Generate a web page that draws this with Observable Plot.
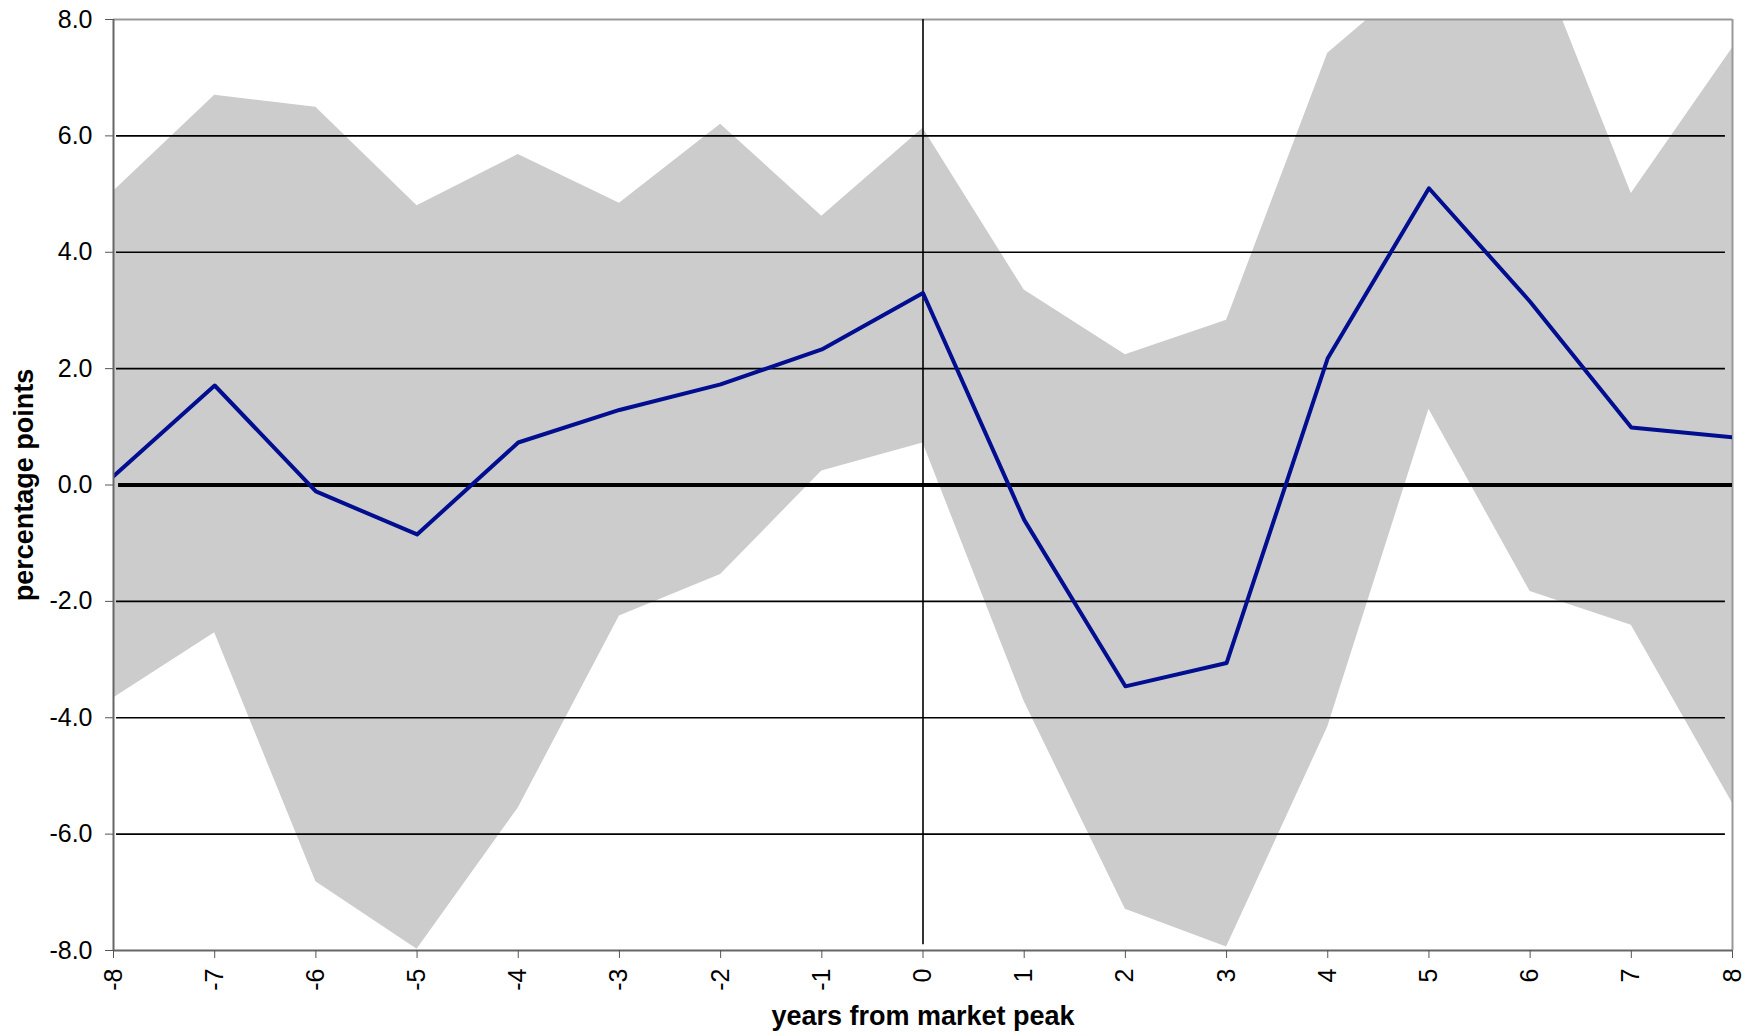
<!DOCTYPE html>
<html>
<head>
<meta charset="utf-8">
<script src="https://cdn.jsdelivr.net/npm/d3@7"></script>
<script src="https://cdn.jsdelivr.net/npm/@observablehq/plot@0.6"></script>
<style>
  html, body { margin: 0; padding: 0; background: white; }
  #chart { width: 1756px; height: 1035px; }
</style>
</head>
<body>
<div id="chart"></div>
<script>
// years from market peak
const years = [-8, -7, -6, -5, -4, -3, -2, -1, 0, 1, 2, 3, 4, 5, 6, 7, 8];
// central estimate (percentage points)
const mean = [0.15, 1.71, -0.11, -0.85, 0.73, 1.29, 1.73, 2.33, 3.30, -0.60, -3.46, -3.06, 2.18, 5.10, 3.15, 0.99, 0.82];
// upper band
const upper = [5.05, 6.70, 6.49, 4.80, 5.68, 4.84, 6.20, 4.62, 6.13, 3.35, 2.24, 2.83, 7.42, 8.90, 9.40, 5.01, 7.51];
// lower band
const lower = [-3.66, -2.54, -6.82, -7.98, -5.55, -2.25, -1.54, 0.24, 0.72, -3.72, -7.29, -7.94, -4.16, 1.30, -1.83, -2.41, -5.47];

const yTicks = [-8, -6, -4, -2, 0, 2, 4, 6, 8];
const gridLevels = [-6, -4, -2, 2, 4, 6];
const xLabel = "years from market peak";
const yLabel = "percentage points";

const data = years.map((x, i) => ({x, mean: mean[i], lo: lower[i], hi: upper[i]}));

const chart = Plot.plot({
  width: 1756,
  height: 1035,
  marginLeft: 113,
  marginRight: 24,
  marginTop: 19,
  marginBottom: 85,
  style: {fontFamily: "'Liberation Sans', Arial, sans-serif", fontSize: "25px", background: "white", color: "black"},
  x: {domain: [-8, 8]},
  y: {domain: [-8, 8]},
  marks: [
    Plot.areaY(data, {x: "x", y1: "lo", y2: "hi", fill: "#cccccc", clip: true}),
    Plot.ruleY(gridLevels, {stroke: "black", strokeWidth: 1.6, x1: -7.97, x2: 7.93}),
    Plot.ruleY([8], {stroke: "#999999", strokeWidth: 2}),
    Plot.ruleX([8], {stroke: "#999999", strokeWidth: 2}),
    Plot.ruleX([0], {stroke: "black", strokeWidth: 1.6, y1: 8, y2: -7.9}),
    Plot.ruleY([0], {stroke: "black", strokeWidth: 4, x1: -7.95, x2: 8}),
    Plot.lineY(data, {x: "x", y: "mean", stroke: "#000e8f", strokeWidth: 4, clip: true}),
    Plot.ruleX([-8], {stroke: "#666666", strokeWidth: 2}),
    Plot.ruleY([-8], {stroke: "#666666", strokeWidth: 2}),
    Plot.axisY({ticks: yTicks, tickFormat: d => d.toFixed(1), tickSize: 8, tickPadding: 13, stroke: "#555555", fontSize: 25, label: null}),
    Plot.axisX({ticks: years, tickFormat: d => String(d), tickSize: 8, tickPadding: 10, tickRotate: -90, stroke: "#555555", fontSize: 25, label: null}),
    Plot.text([xLabel], {text: d => d, frameAnchor: "bottom", textAnchor: "middle", dy: 74, fontSize: 27, fontWeight: "bold", fill: "black"}),
    Plot.text([yLabel], {text: d => d, frameAnchor: "left", textAnchor: "middle", lineAnchor: "middle", dx: -89, rotate: -90, fontSize: 27, fontWeight: "bold", fill: "black"})
  ]
});
document.getElementById("chart").appendChild(chart);
</script>
</body>
</html>
